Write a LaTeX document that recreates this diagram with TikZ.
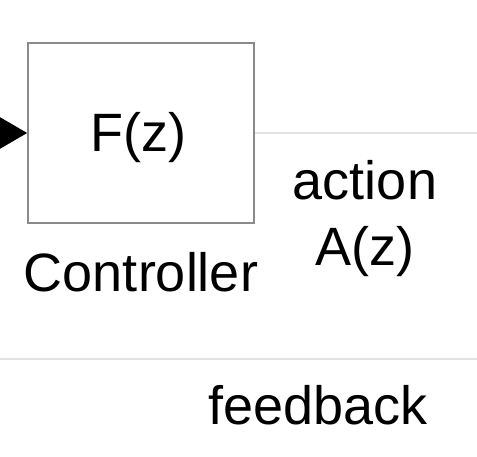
\documentclass[tikz,border=0pt]{standalone}
\usepackage{fontspec}
\setmainfont{Liberation Sans}
\usetikzlibrary{arrows.meta}
\definecolor{boxgray}{HTML}{8A8A8A}
\definecolor{wiregray}{HTML}{E2E2E2}
\tikzset{
  blockbox/.style={draw=boxgray,line width=1.6pt,minimum width=226pt,minimum height=180pt,inner sep=0pt},
  wire/.style={draw=wiregray,line width=2pt},
  lbl/.style={font=\fontsize{54}{60}\selectfont,inner sep=0pt}
}
\begin{document}
\begin{tikzpicture}[x=1pt,y=-1pt]
\useasboundingbox (0,0) rectangle (477,457);
\node[blockbox] (ctrl) at (141,133) {};
\node[lbl] (ctrlf) at (138,138) {F(z)};
\node[lbl] (ctrlname) at (141,272) {Controller};
\coordinate (in) at (-40,133);
\coordinate (out) at (477,133);
\draw[-{Triangle[length=28pt,width=32pt]},line width=2pt] (in) -- (ctrl.west);
\draw[wire] (ctrl.east) -- (out);
\node[lbl] (act) at (365,180) {action};
\node[lbl] (actz) at (365,252) {A(z)};
\coordinate (fbl) at (0,359);
\coordinate (fbr) at (477,359);
\draw[wire] (fbl) -- (fbr);
\node[lbl] (fb) at (318,405) {feedback};
\end{tikzpicture}
\end{document}
